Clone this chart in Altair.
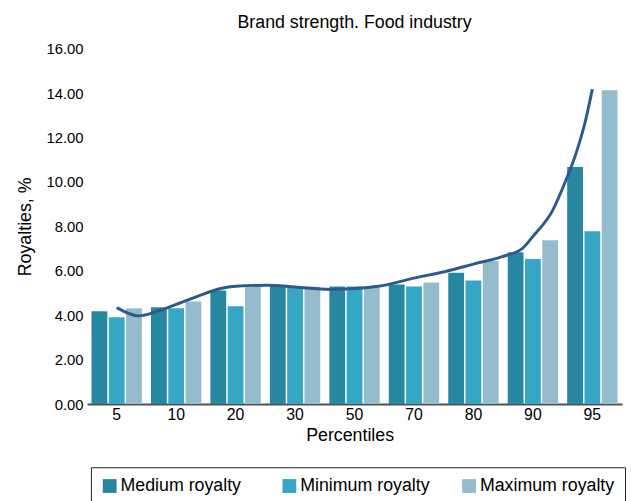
import altair as alt
import pandas as pd

# ---- data ----
percentiles = ["5", "10", "20", "30", "50", "70", "80", "90", "95"]
series_names = ["Medium royalty", "Minimum royalty", "Maximum royalty"]
medium_royalty = [4.18, 4.36, 5.11, 5.33, 5.29, 5.38, 5.91, 6.84, 10.67]
minimum_royalty = [3.91, 4.31, 4.40, 5.28, 5.29, 5.29, 5.56, 6.53, 7.78]
maximum_royalty = [4.31, 4.62, 5.29, 5.28, 5.24, 5.47, 6.44, 7.38, 14.13]

# smoothed trend curve, read at positions measured in category steps (0 = "5", 8 = "95")
trend_pos = [0.0, 0.37, 0.7, 1.0, 1.37, 1.75, 2.0, 2.53, 3.0, 3.58, 4.0, 4.4,
             5.0, 5.53, 6.0, 6.48, 6.82, 7.0, 7.33, 7.55, 7.72, 7.88, 8.0]
trend_val = [4.34, 3.97, 4.19, 4.49, 4.86, 5.20, 5.30, 5.35, 5.27, 5.16, 5.20, 5.30,
             5.67, 5.97, 6.30, 6.64, 7.00, 7.55, 8.71, 10.04, 11.24, 12.71, 14.18]

colors = ["#2887a0", "#35a6c4", "#94bccc"]
FONT = "Liberation Sans"

rows = []
for name, vals in zip(series_names, [medium_royalty, minimum_royalty, maximum_royalty]):
    for p, v in zip(percentiles, vals):
        rows.append({"pct": p, "series": name, "value": v})
bars_df = pd.DataFrame(rows)
trend_df = pd.DataFrame({"pos": trend_pos, "val": trend_val})

W, H = 542, 360

y_scale = alt.Scale(domain=[0, 16], nice=False)

bars = alt.Chart(bars_df).mark_bar().encode(
    x=alt.X("pct:N", sort=percentiles,
            scale=alt.Scale(paddingInner=0, paddingOuter=0),
            axis=alt.Axis(title="Percentiles", labelAngle=0, labelFontSize=16,
                          labelFont=FONT, labelColor="black", labelPadding=3,
                          ticks=False, tickSize=0, domain=True,
                          domainColor="#505050", domainWidth=2,
                          titleFont=FONT, titleFontSize=18, titleFontWeight="normal",
                          titleColor="black", titleBaseline="alphabetic",
                          titleX=266, titleY=37)),
    xOffset=alt.XOffset("series:N", sort=series_names,
                        scale=alt.Scale(paddingInner=0.086, paddingOuter=0.263)),
    y=alt.Y("value:Q", scale=y_scale,
            axis=alt.Axis(title="Royalties, %", values=list(range(0, 17, 2)), format=".2f",
                          grid=False, domain=False, ticks=False, tickSize=0,
                          labelFont=FONT, labelFontSize=15, labelColor="black",
                          labelPadding=4,
                          titleFont=FONT, titleFontSize=18, titleFontWeight="normal",
                          titleColor="black", titleBaseline="alphabetic",
                          titleX=-57, titleY=180)),
    color=alt.Color("series:N", sort=series_names,
                    scale=alt.Scale(domain=series_names, range=colors),
                    title=None,
                    legend=alt.Legend(orient="none", legendX=4, legendY=424,
                                      direction="horizontal", columns=3,
                                      gridAlign="all", columnPadding=25,
                                      symbolType="square", symbolSize=196,
                                      symbolStrokeWidth=0, symbolOpacity=1,
                                      labelFont=FONT, labelFontSize=18,
                                      labelColor="black", labelOffset=2,
                                      strokeColor="#222222", padding=10)),
)

trend = alt.Chart(trend_df).mark_line(
    interpolate="monotone", color="#2c5a8c", strokeWidth=3
).encode(
    x=alt.X("pos:Q", scale=alt.Scale(domain=[-0.5, 8.5], nice=False, zero=False), axis=None),
    y=alt.Y("val:Q", scale=y_scale),
)

chart = alt.layer(bars, trend).resolve_scale(x="independent").properties(
    width=W, height=H,
    background="white",
    title=alt.TitleParams("Brand strength. Food industry", font=FONT, fontSize=18,
                          fontWeight="normal", color="black", anchor="middle",
                          frame="group", baseline="alphabetic", offset=-4),
    autosize=alt.AutoSizeParams(type="none"),
    padding={"left": 80, "top": 38, "right": 7, "bottom": 95},
).configure_view(stroke=None, strokeWidth=0).configure_axis(
    domain=False, grid=False, ticks=False
)

chart.save("out.html", embed_options={"renderer": "svg", "actions": False})
